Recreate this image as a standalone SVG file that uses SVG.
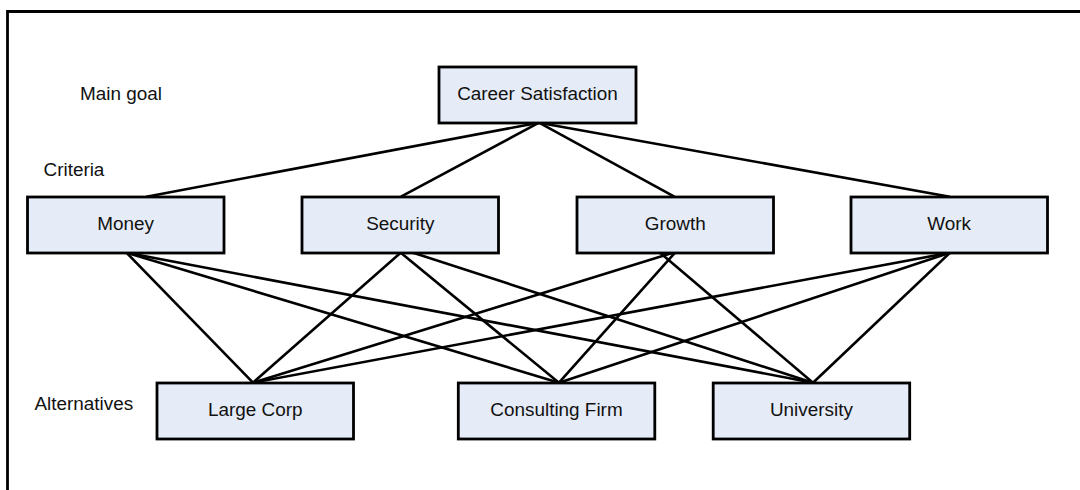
<svg xmlns="http://www.w3.org/2000/svg" width="1080" height="490" viewBox="0 0 1080 490">
<style>
.box{fill:#e6ecf7;stroke:#000;stroke-width:2.8}
.t{font-family:"Liberation Sans",Arial,sans-serif;font-size:18.9px;fill:#111}
.c{text-anchor:middle}
.ln{stroke:#000;stroke-width:2.6;fill:none}
</style>
<rect width="1080" height="490" fill="#fff"/>
<path d="M7.5,492 V11.5 H1082" fill="none" stroke="#000" stroke-width="2.8"/>
<g id="labels">
<text class="t" x="80" y="99.5">Main goal</text>
<text class="t" x="43.5" y="176">Criteria</text>
<text class="t" x="34.5" y="410">Alternatives</text>
</g>
<g id="connectors">
<line class="ln" x1="539" y1="122.7" x2="146.3" y2="196.7"/>
<line class="ln" x1="539" y1="122.7" x2="401" y2="196.7"/>
<line class="ln" x1="539" y1="122.7" x2="674.3" y2="196.7"/>
<line class="ln" x1="539" y1="122.7" x2="949.8" y2="196.7"/>
<line class="ln" x1="126.5" y1="252.7" x2="253" y2="382.7"/>
<line class="ln" x1="126.5" y1="252.7" x2="559" y2="382.7"/>
<line class="ln" x1="126.5" y1="252.7" x2="813" y2="382.7"/>
<line class="ln" x1="400.7" y1="252.7" x2="253" y2="382.7"/>
<line class="ln" x1="400.7" y1="252.7" x2="559" y2="382.7"/>
<line class="ln" x1="413" y1="252.7" x2="813" y2="382.7"/>
<line class="ln" x1="673" y1="252.7" x2="253" y2="382.7"/>
<line class="ln" x1="675" y1="252.7" x2="559" y2="382.7"/>
<line class="ln" x1="660" y1="252.7" x2="813" y2="382.7"/>
<line class="ln" x1="950" y1="252.7" x2="253" y2="382.7"/>
<line class="ln" x1="950" y1="252.7" x2="559" y2="382.7"/>
<line class="ln" x1="950" y1="252.7" x2="813" y2="382.7"/>
</g>
<g id="career">
<rect class="box" x="439" y="67" width="197" height="56"/>
<text class="t c" x="537.5" y="100">Career Satisfaction</text>
</g>
<g id="money">
<rect class="box" x="27.5" y="197" width="196.5" height="56"/>
<text class="t c" x="125.7" y="230">Money</text>
</g>
<g id="security">
<rect class="box" x="302" y="197" width="196.5" height="56"/>
<text class="t c" x="400.3" y="230">Security</text>
</g>
<g id="growth">
<rect class="box" x="577" y="197" width="196.5" height="56"/>
<text class="t c" x="675.2" y="230">Growth</text>
</g>
<g id="work">
<rect class="box" x="851" y="197" width="196.5" height="56"/>
<text class="t c" x="949.2" y="230">Work</text>
</g>
<g id="largecorp">
<rect class="box" x="157" y="383" width="196.5" height="56"/>
<text class="t c" x="255.2" y="416">Large Corp</text>
</g>
<g id="consulting">
<rect class="box" x="458.3" y="383" width="196.5" height="56"/>
<text class="t c" x="556.5" y="416">Consulting Firm</text>
</g>
<g id="university">
<rect class="box" x="713.2" y="383" width="196.5" height="56"/>
<text class="t c" x="811.4" y="416">University</text>
</g>
</svg>
